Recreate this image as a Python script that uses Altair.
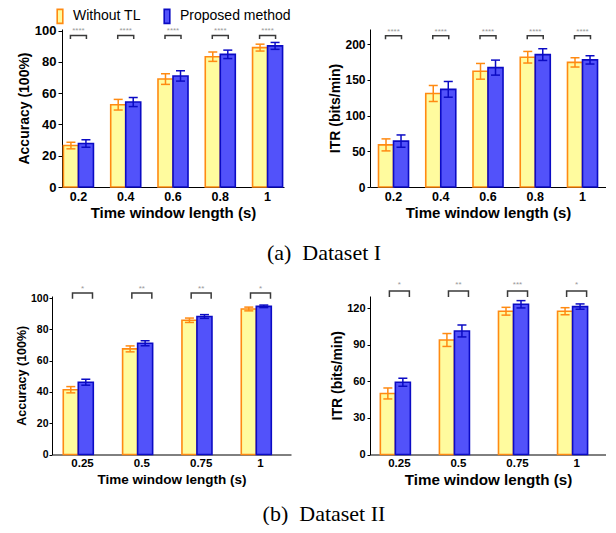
import altair as alt
import pandas as pd

METHODS = ["Without TL", "Proposed method"]
FILLS = ["#FFFB9E", "#5252FA"]
STROKES = ["#FF8A12", "#0B0BC4"]

# Dataset I
windows_1 = ["0.2", "0.4", "0.6", "0.8", "1"]
acc1_base = [26.5, 52.6, 69.0, 83.3, 89.1]
acc1_base_err = [2.1, 3.4, 3.4, 3.0, 2.2]
acc1_prop = [27.8, 54.3, 71.0, 84.8, 90.2]
acc1_prop_err = [2.4, 2.9, 3.3, 2.7, 2.2]
itr1_base = [58.9, 130.8, 161.8, 181.5, 174.3]
itr1_base_err = [8.4, 11.2, 11.0, 8.1, 6.5]
itr1_prop = [64.2, 136.6, 167.0, 185.2, 177.8]
itr1_prop_err = [8.6, 11.0, 10.5, 8.2, 5.8]
sig1_acc = ["****", "****", "****", "****", "****"]
sig1_itr = ["****", "****", "****", "****", "****"]

# Dataset II
windows_2 = ["0.25", "0.5", "0.75", "1"]
acc2_base = [41.4, 67.5, 85.8, 93.0]
acc2_base_err = [2.0, 1.9, 1.4, 1.2]
acc2_prop = [46.2, 71.1, 88.2, 94.7]
acc2_prop_err = [1.9, 1.6, 1.2, 0.8]
itr2_base = [50.1, 94.0, 117.6, 117.6]
itr2_base_err = [4.5, 5.3, 3.2, 2.9]
itr2_prop = [59.3, 101.4, 123.3, 121.4]
itr2_prop_err = [3.3, 4.9, 3.0, 2.2]
sig2_acc = ["*", "**", "**", "*"]
sig2_itr = ["*", "**", "***", "*"]

captions = ["(a)\u00a0 Dataset I", "(b)\u00a0 Dataset II"]

FONT = "Liberation Sans"

LEGEND = alt.Legend(
    orient="none", legendX=0, legendY=-21, direction="horizontal", title=None,
    symbolType="M-0.4,-1H0.4V1H-0.4Z", symbolSize=196, symbolStrokeWidth=1.6,
    labelFontSize=14, labelFont=FONT, labelColor="black", columnPadding=18,
    labelOffset=5,
)


def panel(windows, base, base_err, prop, prop_err, sig, c, legend=None):
    rows = []
    for i, w in enumerate(windows):
        rows.append(dict(window=w, method=METHODS[0], value=base[i],
                         lo=base[i] - base_err[i], hi=base[i] + base_err[i]))
        rows.append(dict(window=w, method=METHODS[1], value=prop[i],
                         lo=prop[i] - prop_err[i], hi=prop[i] + prop_err[i]))
    df = pd.DataFrame(rows)
    sdf = pd.DataFrame({"window": windows, "stars": sig})

    indent = c.get("indent", 0)
    xaxis = alt.Axis(title="Time window length (s)", labelAngle=0, ticks=False,
                     labelFontSize=c["xl"], titleFontSize=c["xt"], labelPadding=3,
                     titlePadding=c["xtp"], domainColor="black", domainWidth=1,
                     labelFontWeight="bold", titleFontWeight="bold",
                     labelColor="black", titleColor="black",
                     labelFont=FONT, titleFont=FONT)
    xscale_kw = dict(paddingInner=c["pi"], paddingOuter=c["po"])
    if indent:
        xscale_kw["range"] = [indent, c["w"]]
    x = alt.X("window:N", sort=windows, scale=alt.Scale(**xscale_kw), axis=xaxis)
    yscale = alt.Scale(domain=[0, c["ymax"]], nice=False, zero=True)
    yaxis_kw = dict(title=c["ytitle"], values=c["ticks"], grid=False,
                    tickSize=c["ts"], tickColor="black", domainColor="black",
                    labelFontSize=c["yl"], titleFontSize=c["yt"],
                    labelPadding=c["ylp"], titlePadding=c["ytp"],
                    labelFontWeight="bold", titleFontWeight="bold",
                    labelColor="black", titleColor="black",
                    labelFont=FONT, titleFont=FONT)
    if indent:
        yaxis_kw["offset"] = -indent
    yaxis = alt.Axis(**yaxis_kw)
    xo = alt.XOffset("method:N", sort=METHODS)
    fill = alt.Fill("method:N", sort=METHODS,
                    scale=alt.Scale(domain=METHODS, range=FILLS), legend=legend)
    stroke = alt.Stroke("method:N", sort=METHODS,
                        scale=alt.Scale(domain=METHODS, range=STROKES), legend=legend)

    b = alt.Chart(df)
    bars = b.mark_bar(strokeWidth=1.6).encode(
        x=x, xOffset=xo, y=alt.Y("value:Q", scale=yscale, axis=yaxis),
        fill=fill, stroke=stroke)
    err = b.mark_rule(strokeWidth=1.5).encode(
        x=x, xOffset=xo, y=alt.Y("lo:Q", scale=yscale, axis=yaxis), y2="hi:Q",
        stroke=stroke)
    cap_lo = b.mark_point(shape="M-1,0L1,0", size=81, filled=False,
                          strokeWidth=1.5, opacity=1).encode(
        x=x, xOffset=xo, y=alt.Y("lo:Q", scale=yscale, axis=yaxis), stroke=stroke)
    cap_hi = b.mark_point(shape="M-1,0L1,0", size=81, filled=False,
                          strokeWidth=1.5, opacity=1).encode(
        x=x, xOffset=xo, y=alt.Y("hi:Q", scale=yscale, axis=yaxis), stroke=stroke)

    s = alt.Chart(sdf)
    bracket = s.mark_point(shape=c["bshape"], size=c["bsize"], filled=False,
                           strokeWidth=1.5, color="#3a3a3a", opacity=1).encode(
        x=x, y=alt.YDatum(c["by"], type="quantitative", scale=yscale, axis=yaxis))
    stars = s.mark_text(fontSize=8, color="#9a9a9a", baseline="middle",
                        font=FONT).encode(
        x=x, y=alt.YDatum(c["sy"], type="quantitative", scale=yscale, axis=yaxis),
        text="stars:N")

    return alt.layer(bars, err, cap_lo, cap_hi, bracket, stars).properties(
        width=c["w"], height=c["h"])


tl = panel(windows_1, acc1_base, acc1_base_err, acc1_prop, acc1_prop_err, sig1_acc, dict(
    w=232, indent=10, h=158, pi=0.365, po=0.03, ymax=101, ticks=[0, 20, 40, 60, 80, 100],
    ytitle="Accuracy (100%)", ts=4, yl=13, yt=14, ylp=2, ytp=3,
    xl=12.5, xt=15, xtp=2.5, bshape="M-1,0.43L-1,0L1,0L1,0.43", bsize=256,
    by=96.8, sy=99.6), legend=LEGEND)
tr = panel(windows_1, itr1_base, itr1_base_err, itr1_prop, itr1_prop_err, sig1_itr, dict(
    w=236, h=158, pi=0.365, po=0.18, ymax=221, ticks=[0, 50, 100, 150, 200],
    ytitle="ITR (bits/min)", ts=3, yl=12, yt=14, ylp=2, ytp=2,
    xl=12.5, xt=15, xtp=2.5, bshape="M-1,0.43L-1,0L1,0L1,0.43", bsize=256,
    by=211.6, sy=217.5))
bl = panel(windows_2, acc2_base, acc2_base_err, acc2_prop, acc2_prop_err, sig2_acc, dict(
    w=239, h=158.5, pi=0.352, po=0.19, ymax=101.3, ticks=[0, 20, 40, 60, 80, 100],
    ytitle="Accuracy (100%)", ts=3, yl=10.5, yt=12.5, ylp=1, ytp=2,
    xl=11.5, xt=13.5, xtp=3, bshape="M-1,0.56L-1,0L1,0L1,0.56", bsize=400,
    by=103.2, sy=105.8))
br = panel(windows_2, itr2_base, itr2_base_err, itr2_prop, itr2_prop_err, sig2_itr, dict(
    w=236, h=158.5, pi=0.355, po=0.175, ymax=130.1, ticks=[0, 30, 60, 90, 120],
    ytitle="ITR (bits/min)", ts=3, yl=11, yt=14, ylp=2, ytp=2,
    xl=11.5, xt=15.2, xtp=3, bshape="M-1,0.6L-1,0L1,0L1,0.6", bsize=400,
    by=134.3, sy=139.3))


def caption(text, h, dy):
    return alt.Chart(pd.DataFrame({"t": [text]})).mark_text(
        font="Liberation Serif", fontSize=22, color="black", dx=2, dy=dy,
        baseline="middle").encode(text="t:N").properties(width=540, height=h)


row1 = alt.hconcat(tl, tr, spacing=86, bounds="flush").resolve_legend(
    fill="independent", stroke="independent")
row2 = alt.hconcat(bl, br, spacing=79, bounds="flush")

chart = alt.concat(
    row1, caption(captions[0], 59.5, 2.75), row2, caption(captions[1], 20, 15.5),
    columns=1, align="none", spacing=0,
).resolve_legend(
    fill="independent", stroke="independent"
).properties(
    padding={"left": 7, "top": 0, "right": 0, "bottom": 0},
    background="white",
).configure_view(stroke=None)

chart.save("out.html", embed_options={"renderer": "svg", "actions": False})
